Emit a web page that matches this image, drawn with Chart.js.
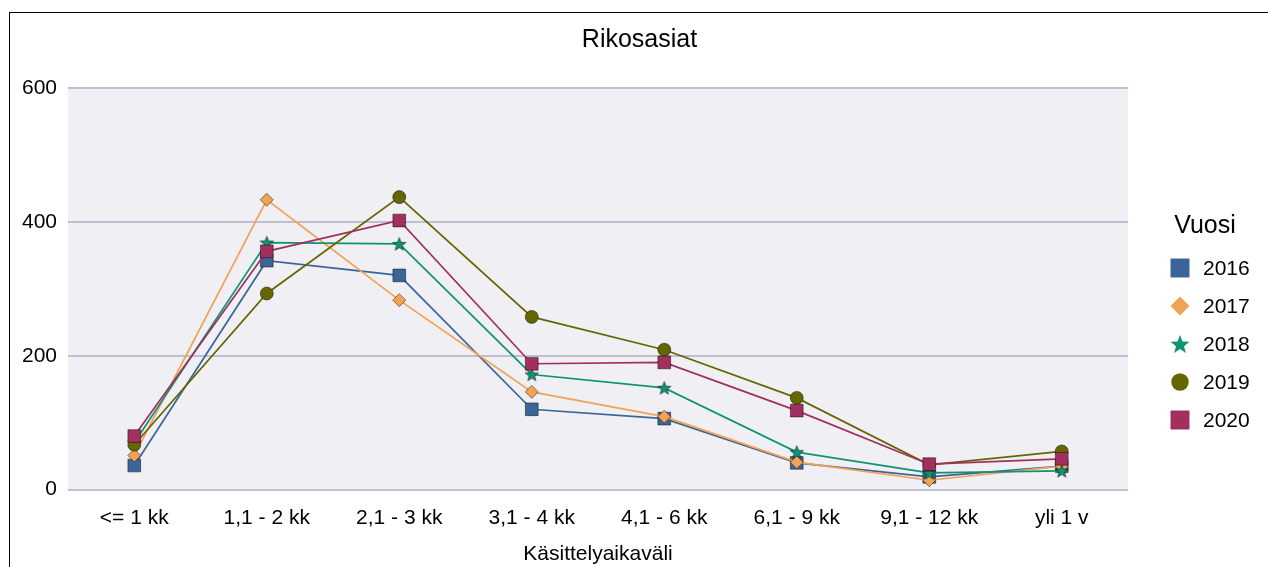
<!DOCTYPE html>
<html>
<head>
<meta charset="utf-8">
<script src="https://cdn.jsdelivr.net/npm/chart.js@4"></script>
<style>
  html, body { margin: 0; padding: 0; background: #fff; overflow: hidden; }
  #frame { position: absolute; left: 9px; top: 12px; width: 1268px; height: 600px; border: 1px solid #000; box-sizing: border-box; }
  #wrap { position: absolute; left: 10px; top: 13px; width: 1258px; height: 554px; }
</style>
</head>
<body>
<div id="frame"></div>
<div id="wrap"><canvas id="chart"></canvas></div>
<script>
const categories = ["<= 1 kk", "1,1 - 2 kk", "2,1 - 3 kk", "3,1 - 4 kk", "4,1 - 6 kk", "6,1 - 9 kk", "9,1 - 12 kk", "yli 1 v"];
const years = ["2016", "2017", "2018", "2019", "2020"];
const v2016 = [36, 342, 320, 120, 106, 40, 19, 35];
const v2017 = [51, 433, 283, 146, 109, 41, 14, 35];
const v2018 = [70, 369, 367, 172, 152, 56, 25, 28];
const v2019 = [67, 293, 437, 258, 209, 137, 37, 57];
const v2020 = [80, 356, 402, 188, 190, 118, 38, 46];
const yTicks = [0, 200, 400, 600];

const colors = ["#3B6598", "#F2A254", "#0E9475", "#666600", "#A1305F"];
const FONT = "'Liberation Sans', Arial, sans-serif";

// filled five point star, Chart.js 'star' is only line-drawn
function makeStar(size, fill, stroke) {
  const c = document.createElement("canvas");
  c.width = size; c.height = size;
  const ctx = c.getContext("2d");
  const cx = size / 2, cy = size / 2 + size * 0.04;
  const ro = size / 2 - 1, ri = ro * 0.42;
  ctx.beginPath();
  for (let i = 0; i < 10; i++) {
    const r = i % 2 ? ri : ro;
    const a = -Math.PI / 2 + i * Math.PI / 5;
    ctx.lineTo(cx + r * Math.cos(a), cy + r * Math.sin(a));
  }
  ctx.closePath();
  ctx.fillStyle = fill;
  ctx.fill();
  if (stroke) { ctx.strokeStyle = stroke; ctx.lineWidth = 1; ctx.stroke(); }
  return c;
}

const starSmall = makeStar(16, colors[2], "rgba(0,0,0,0.5)");
const starBig = makeStar(22, colors[2], null);

const styles = ["rect", "rectRot", starSmall, "circle", "rect"];
const radii = [9, 6.5, 8, 6.5, 9];
const series = [v2016, v2017, v2018, v2019, v2020];

const datasets = series.map((vals, i) => ({
  label: years[i],
  data: vals,
  borderColor: colors[i],
  backgroundColor: colors[i],
  borderWidth: 1.7,
  pointStyle: styles[i],
  pointRadius: radii[i],
  pointHoverRadius: radii[i],
  pointBorderColor: "rgba(0,0,0,0.45)",
  pointBorderWidth: 1,
  order: series.length - i,
  tension: 0
}));

const plotBg = {
  id: "plotBg",
  beforeDraw(chart) {
    const a = chart.chartArea, ctx = chart.ctx;
    ctx.save();
    ctx.fillStyle = "#EFEFF4";
    ctx.fillRect(a.left, a.top, a.right - a.left, a.bottom - a.top);
    ctx.restore();
  }
};

const legendBox = {
  id: "legendBox",
  afterDraw(chart) {
    const ctx = chart.ctx;
    ctx.save();
    ctx.fillStyle = "#000";
    ctx.font = "25px " + FONT;
    ctx.textAlign = "center";
    ctx.textBaseline = "middle";
    ctx.fillText("Vuosi", 1195, 213);
    const legStyles = ["rect", "rectRot", starBig, "circle", "rect"];
    const legRadii = [13.4, 9.5, 11, 8.7, 13.4];
    ctx.font = "21px " + FONT;
    ctx.textAlign = "left";
    years.forEach((y, i) => {
      const cy = 255 + i * 38;
      ctx.fillStyle = colors[i];
      ctx.strokeStyle = colors[i];
      Chart.helpers.drawPoint(ctx, { pointStyle: legStyles[i], radius: legRadii[i], borderWidth: 0 }, 1170, cy);
      ctx.fillStyle = "#000";
      ctx.fillText(y, 1193, cy + 1);
    });
    ctx.restore();
  }
};

new Chart("chart", {
  type: "line",
  data: { labels: categories, datasets: datasets },
  options: {
    responsive: true,
    maintainAspectRatio: false,
    animation: false,
    layout: { padding: { left: 1, right: 0, top: 0, bottom: 0 } },
    plugins: {
      legend: { display: false },
      tooltip: { enabled: false },
      title: {
        display: true,
        text: "Rikosasiat",
        color: "#000",
        font: { family: FONT, size: 25, weight: "normal" },
        padding: { top: 12, bottom: 33 }
      }
    },
    scales: {
      x: {
        offset: true,
        grid: { display: false },
        border: { display: false },
        ticks: { color: "#000", font: { family: FONT, size: 21 }, padding: 8, maxRotation: 0 },
        title: {
          display: true,
          text: "Käsittelyaikaväli",
          color: "#000",
          font: { family: FONT, size: 21 },
          padding: { top: 3, bottom: 0 }
        }
      },
      y: {
        min: 0,
        max: 600,
        afterBuildTicks(scale) { scale.ticks = yTicks.map(v => ({ value: v })); },
        grid: { color: "#BFBFD1", lineWidth: 2, drawTicks: false },
        border: { display: false },
        ticks: { color: "#000", font: { family: FONT, size: 21 }, padding: 11 }
      },
      // empty right axis that only keeps room for the legend
      legendSpace: {
        type: "linear",
        position: "right",
        min: 0,
        max: 1,
        afterFit(scale) { scale.width = 140; },
        grid: { display: false },
        border: { display: false },
        ticks: { display: false }
      }
    }
  },
  plugins: [plotBg, legendBox]
});
</script>
</body>
</html>
